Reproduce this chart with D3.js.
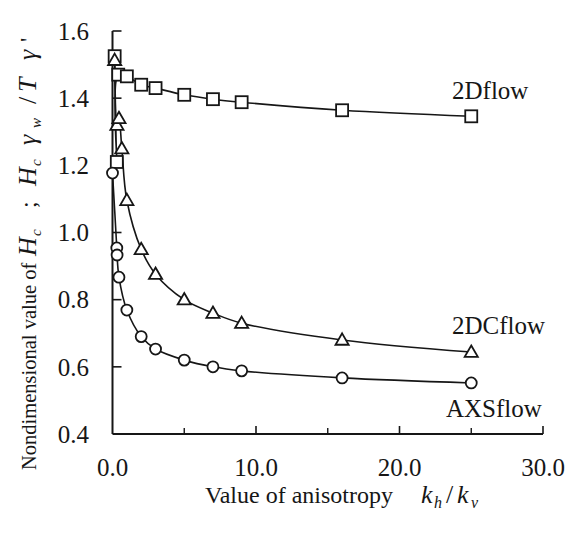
<!DOCTYPE html>
<html>
<head>
<meta charset="utf-8">
<script src="https://cdn.jsdelivr.net/npm/d3@7"></script>
<style>
  html, body { margin: 0; padding: 0; background: #fff; }
  svg { display: block; }
</style>
</head>
<body>
<svg id="chart" width="568" height="536" font-family="'Liberation Serif', 'DejaVu Serif', Times, serif"></svg>
<script>
// ---------------- data ----------------
const xTicksMajor = [0, 10, 20, 30];
const xTicksMinor = [5, 15, 25];
const xTickLabels = ["0.0", "10.0", "20.0", "30.0"];
const yTicks = [0.4, 0.6, 0.8, 1.0, 1.2, 1.4, 1.6];
const yTickLabels = ["0.4", "0.6", "0.8", "1.0", "1.2", "1.4", "1.6"];

const kh2D = [0.15, 0.3, 0.4, 1, 2, 3, 5, 7, 9, 16, 25];
const val2D = [1.525, 1.21, 1.47, 1.465, 1.44, 1.43, 1.41, 1.397, 1.388, 1.364, 1.346];

const kh2DC = [0.15, 0.31, 0.45, 0.65, 1, 2, 3, 5, 7, 9, 16, 25];
const val2DC = [1.513, 1.32, 1.34, 1.25, 1.096, 0.95, 0.876, 0.80, 0.76, 0.73, 0.68, 0.644];

const khAXS = [0, 0.3, 0.32, 0.45, 1, 2, 3, 5, 7, 9, 16, 25];
const valAXS = [1.177, 0.954, 0.933, 0.867, 0.769, 0.69, 0.653, 0.62, 0.60, 0.588, 0.567, 0.552];

const seriesNames = ["2Dflow", "2DCflow", "AXSflow"];

// ---------------- layout ----------------
const svg = d3.select("#chart");
const x = d3.scaleLinear().domain([0, 30]).range([112.5, 543]);
const y = d3.scaleLinear().domain([0.4, 1.6]).range([434, 31]);
const ink = "#161616";

// axes (inward ticks, L-shaped frame)
const axisG = svg.append("g");
axisG.append("line").attr("x1", x(0)).attr("x2", x(30)).attr("y1", y(0.4)).attr("y2", y(0.4))
  .attr("stroke", ink).attr("stroke-width", 2);
axisG.append("line").attr("x1", x(0)).attr("x2", x(0)).attr("y1", y(0.4)).attr("y2", y(1.6))
  .attr("stroke", ink).attr("stroke-width", 2);

axisG.selectAll(".xmaj").data(xTicksMajor.slice(1)).join("line")
  .attr("x1", d => x(d)).attr("x2", d => x(d))
  .attr("y1", y(0.4)).attr("y2", y(0.4) - 8)
  .attr("stroke", ink).attr("stroke-width", 1.6);
axisG.selectAll(".xmin").data(xTicksMinor).join("line")
  .attr("x1", d => x(d)).attr("x2", d => x(d))
  .attr("y1", y(0.4)).attr("y2", y(0.4) - 6)
  .attr("stroke", ink).attr("stroke-width", 1.4);
axisG.selectAll(".ytk").data(yTicks.slice(1)).join("line")
  .attr("x1", x(0)).attr("x2", x(0) + 9)
  .attr("y1", d => y(d)).attr("y2", d => y(d))
  .attr("stroke", ink).attr("stroke-width", 1.6);

// tick labels
svg.selectAll(".xl").data(xTicksMajor).join("text")
  .attr("x", d => x(d)).attr("y", 476)
  .attr("text-anchor", "middle").attr("font-size", 25).attr("fill", ink)
  .text((d, i) => xTickLabels[i]);
svg.selectAll(".yl").data(yTicks).join("text")
  .attr("x", 89).attr("y", d => y(d)).attr("dy", "0.35em")
  .attr("text-anchor", "end").attr("font-size", 25).attr("fill", ink)
  .text((d, i) => yTickLabels[i]);

// x axis title
const xt = svg.append("text").attr("x", 205).attr("y", 503).attr("font-size", 24).attr("fill", ink);
xt.append("tspan").text("Value of anisotropy");
xt.append("tspan").attr("x", 421).attr("font-style", "italic").attr("font-size", 26).text("k");
xt.append("tspan").attr("x", 434).attr("dy", 5).attr("font-style", "italic").attr("font-size", 16).text("h");
xt.append("tspan").attr("x", 446).attr("dy", -5).attr("font-size", 26).text("/");
xt.append("tspan").attr("x", 457).attr("font-style", "italic").attr("font-size", 26).text("k");
xt.append("tspan").attr("x", 471).attr("dy", 5).attr("font-style", "italic").attr("font-size", 16).text("v");

// y axis title (rotated; x attributes run along the rotated baseline)
const yt = svg.append("text").attr("transform", "translate(36,470) rotate(-90)")
  .attr("font-size", 20.5).attr("fill", ink);
yt.append("tspan").attr("x", 0).text("Nondimensional value of");
const yParts = [
  {t: "H", p: 214, it: true, fs: 26, dy: 0},
  {t: "c", p: 234, it: true, fs: 15, dy: 5},
  {t: ";", p: 262, it: false, fs: 24, dy: -5},
  {t: "H", p: 284, it: true, fs: 26, dy: 0},
  {t: "c", p: 304, it: true, fs: 15, dy: 5},
  {t: "γ", p: 325, it: true, fs: 26, dy: -5},
  {t: "w", p: 342, it: true, fs: 15, dy: 5},
  {t: "/", p: 366, it: false, fs: 26, dy: -5},
  {t: "T", p: 378, it: true, fs: 26, dy: 0},
  {t: "γ", p: 410, it: true, fs: 26, dy: 0},
  {t: "'", p: 428, it: false, fs: 24, dy: 0}
];
yParts.forEach(o => {
  yt.append("tspan").attr("x", o.p).attr("dy", o.dy)
    .attr("font-style", o.it ? "italic" : "normal")
    .attr("font-size", o.fs).text(o.t);
});

// ---------------- series ----------------
const line = d3.line().x(d => x(d[0])).y(d => y(d[1])).curve(d3.curveCatmullRom.alpha(0.5));
const s2D = kh2D.map((k, i) => [k, val2D[i]]);
const s2DC = kh2DC.map((k, i) => [k, val2DC[i]]);
const sAXS = khAXS.map((k, i) => [k, valAXS[i]]);

const gLines = svg.append("g");
[s2D, s2DC, sAXS].forEach(s => {
  gLines.append("path").datum(s).attr("d", line)
    .attr("fill", "none").attr("stroke", ink).attr("stroke-width", 1.6);
});

const gm = svg.append("g");
gm.selectAll(".sq").data(s2D).join("rect")
  .attr("x", d => x(d[0]) - 6).attr("y", d => y(d[1]) - 6)
  .attr("width", 12).attr("height", 12)
  .attr("fill", "#fff").attr("stroke", ink).attr("stroke-width", 1.8);
const tri = d3.symbol().type(d3.symbolTriangle).size(75);
gm.selectAll(".tr").data(s2DC).join("path")
  .attr("d", tri)
  .attr("transform", d => `translate(${x(d[0])},${y(d[1]) + 1})`)
  .attr("fill", "#fff").attr("stroke", ink).attr("stroke-width", 1.8);
gm.selectAll(".ci").data(sAXS).join("circle")
  .attr("cx", d => x(d[0])).attr("cy", d => y(d[1])).attr("r", 5.5)
  .attr("fill", "#fff").attr("stroke", ink).attr("stroke-width", 1.8);

// series labels
const labelPos = [[452, 99], [452, 334], [446, 417]];
svg.selectAll(".sl").data(seriesNames).join("text")
  .attr("x", (d, i) => labelPos[i][0]).attr("y", (d, i) => labelPos[i][1])
  .attr("font-size", 25).attr("fill", ink).text(d => d);
</script>
</body>
</html>
